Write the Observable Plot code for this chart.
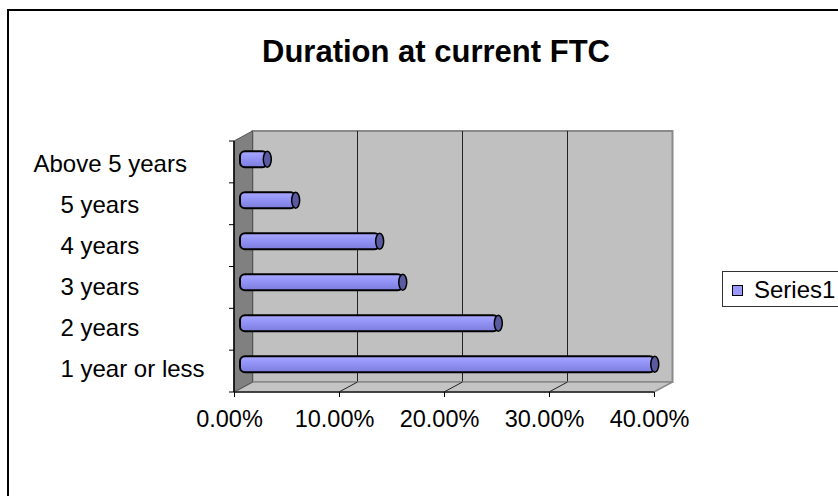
<!DOCTYPE html>
<html>
<head>
<meta charset="utf-8">
<script src="https://cdn.jsdelivr.net/npm/d3@7"></script>
<script src="https://cdn.jsdelivr.net/npm/@observablehq/plot@0.6"></script>
<style>
  html, body { margin: 0; padding: 0; background: #fff; }
  #wrap { position: relative; width: 838px; height: 496px; overflow: hidden; font-family: "Liberation Sans", Arial, sans-serif; background: #fff; }
  #chart { position: absolute; left: 0; top: 0; }
  #border { position: absolute; left: 7px; top: 9px; width: 900px; height: 600px; border-left: 2px solid #000; border-top: 2px solid #000; pointer-events: none; }
  #title { position: absolute; left: 0; top: 36px; width: 872px; text-align: center; font-weight: bold; font-size: 31px; line-height: 31px; color: #000; }
  #legend { position: absolute; left: 722px; top: 271px; width: 140px; height: 36px; border: 1px solid #333; box-sizing: border-box; background: #fff; }
  #legend .sw { position: absolute; left: 9px; top: 13px; width: 9px; height: 9px; border: 1.5px solid #000; }
  #legend .lab { position: absolute; left: 31px; top: 6px; font-size: 24px; line-height: 24px; color: #000; white-space: nowrap; }
</style>
</head>
<body>
<svg width="0" height="0" style="position:absolute">
  <defs>
    <linearGradient id="barGrad" x1="0" y1="0" x2="0" y2="1">
      <stop offset="0" stop-color="#a8a8ff"/>
      <stop offset="0.4" stop-color="#9595f8"/>
      <stop offset="1" stop-color="#7c7cdc"/>
    </linearGradient>
  </defs>
</svg>
<div id="wrap">
  <div id="chart"></div>
  <div id="title"></div>
  <div id="legend"></div>
  <div id="border"></div>
</div>
<script>
// ---- data ----
const categories = ["1 year or less", "2 years", "3 years", "4 years", "5 years", "Above 5 years"];
const shares = [0.395, 0.246, 0.155, 0.133, 0.053, 0.026];
const xTicks = [0, 0.1, 0.2, 0.3, 0.4];
const seriesName = "Series1";
const chartTitle = "Duration at current FTC";
const seriesColor = "#9999ff";

const data = categories.map((c, i) => ({category: c, value: shares[i]}));

// 3D depth of the box (pixels)
const DX = 18.5, DY = -10;
// bar position inside the depth
const BDX = 6, BDY = -4.7;

function box3d(index, scales, values, dim) {
  const x = scales.x;
  const L = dim.marginLeft, R = dim.width - dim.marginRight;
  const T = dim.marginTop, B = dim.height - dim.marginBottom;
  const g = d3.create("svg:g");
  // back wall
  g.append("rect").attr("x", L + DX).attr("y", T + DY).attr("width", R - L).attr("height", B - T)
    .attr("fill", "#c0c0c0").attr("stroke", "#8a8a8a").attr("stroke-width", 2);
  // gridlines on back wall
  for (const t of xTicks.slice(1, -1)) {
    g.append("line").attr("x1", x(t) + DX).attr("x2", x(t) + DX).attr("y1", T + DY).attr("y2", B + DY)
      .attr("stroke", "#222").attr("stroke-width", 1);
  }
  // floor
  g.append("path").attr("d", `M${L},${B}L${L + DX},${B + DY}L${R + DX},${B + DY}L${R},${B}Z`)
    .attr("fill", "#c4c4c4").attr("stroke", "#8a8a8a").attr("stroke-width", 1.5);
  for (const t of xTicks.slice(1, -1)) {
    g.append("line").attr("x1", x(t)).attr("x2", x(t) + DX).attr("y1", B).attr("y2", B + DY)
      .attr("stroke", "#222").attr("stroke-width", 1);
  }
  // side wall
  g.append("path").attr("d", `M${L},${T}L${L + DX},${T + DY}L${L + DX},${B + DY}L${L},${B}Z`)
    .attr("fill", "#808080").attr("stroke", "#555").attr("stroke-width", 1);
  // front axis lines
  g.append("line").attr("x1", L).attr("x2", R).attr("y1", B).attr("y2", B).attr("stroke", "#222").attr("stroke-width", 1.5);
  g.append("line").attr("x1", L).attr("x2", L).attr("y1", T).attr("y2", B).attr("stroke", "#000").attr("stroke-width", 1.5);
  // category tick marks at band boundaries
  const n = categories.length;
  for (let i = 0; i <= n; ++i) {
    const y = T + i * (B - T) / n;
    g.append("line").attr("x1", L - 5).attr("x2", L).attr("y1", y).attr("y2", y).attr("stroke", "#000").attr("stroke-width", 1);
  }
  return g.node();
}

const yDomain = categories.slice().reverse();
const pct = d3.format(".2%");

const plot = Plot.plot({
  width: 838,
  height: 496,
  marginLeft: 234,
  marginRight: 184,
  marginTop: 141,
  marginBottom: 104,
  style: {background: "none", fontFamily: "'Liberation Sans', Arial, sans-serif", color: "#000", overflow: "visible"},
  x: {domain: [xTicks[0], xTicks[xTicks.length - 1]], axis: null, label: null},
  y: {domain: yDomain, paddingInner: 0.6, paddingOuter: 0.3, axis: null, label: null},
  marks: [
    box3d,
    Plot.barX(data, {x: "value", y: "category", fill: "url(#barGrad)", stroke: "#000", strokeWidth: 2, rx: 5, dx: BDX, dy: BDY}),
    Plot.barX(data, {x1: "value", x2: "value", y: "category", insetLeft: -4, insetRight: -4, rx: 4, ry: 8.5,
      fill: "#5a5aa0", stroke: "#000", strokeWidth: 1.5, dx: BDX, dy: BDY}),
    Plot.axisX(xTicks, {tickSize: 5, tickFormat: () => "", stroke: "#000", label: null}),
    Plot.axisX(xTicks, {tickSize: 0, tickPadding: 18, tickFormat: pct, fontSize: 23.5, dx: -5, fill: "#000", label: null}),
    Plot.axisY(categories.filter(c => c !== "Above 5 years"), {tickSize: 0, tickPadding: 0, textAnchor: "start", dx: -174, fontSize: 24, fill: "#000", label: null}),
    Plot.axisY(categories.filter(c => c === "Above 5 years"), {tickSize: 0, tickPadding: 0, textAnchor: "start", dx: -201, fontSize: 24, fill: "#000", label: null})
  ]
});
document.getElementById("chart").appendChild(plot);
document.getElementById("title").textContent = chartTitle;
const lg = document.getElementById("legend");
const sw = document.createElement("span"); sw.className = "sw"; sw.style.background = seriesColor; lg.appendChild(sw);
const lb = document.createElement("span"); lb.className = "lab"; lb.textContent = seriesName; lg.appendChild(lb);
</script>
</body>
</html>
